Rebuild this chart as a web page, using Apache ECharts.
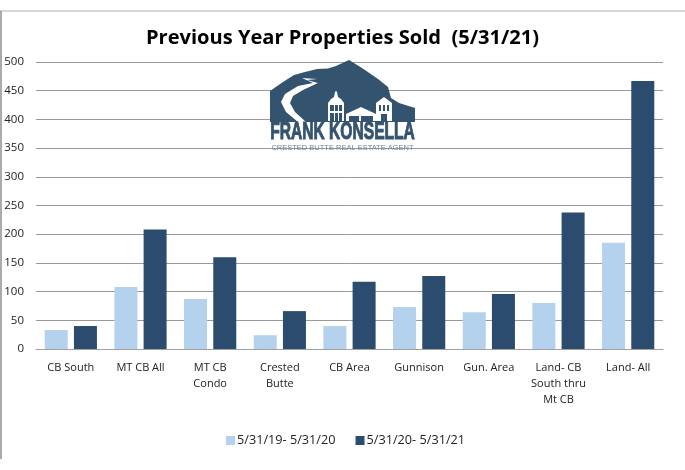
<!DOCTYPE html>
<html><head><meta charset="utf-8">
<style>html,body{margin:0;padding:0;background:#fff}#c{width:685px;height:470px}</style>
<script src="https://cdn.jsdelivr.net/npm/echarts@6/dist/echarts.min.js"></script>
</head><body><div id="c"></div>
<script>
const categories = ['CB South','MT CB All','MT CB\nCondo','Crested\nButte','CB Area','Gunnison','Gun. Area','Land- CB\nSouth thru\nMt CB','Land- All'];
const prevYear = [33,108,87,24,40,73,64,80,185];
const currYear = [40,208,160,66,117,127,96,238,467];
const yTicks = {min:0,max:500,interval:50};
const seriesNames = ['5/31/19- 5/31/20','5/31/20- 5/31/21'];
const titleText = 'Previous Year Properties Sold  (5/31/21)';
const LOGO = '#34536f';
const W = '#fff';
const rect = (x,y,w,h,fill,z) => ({type:'rect',silent:true,z:z,shape:{x:x,y:y,width:w,height:h},style:{fill:fill}});
const poly = (pts,fill,z) => ({type:'polygon',silent:true,z:z,shape:{points:pts},style:{fill:fill}});
const chart = echarts.init(document.getElementById('c'),null,{renderer:'canvas'});
chart.setOption({
  animation:false,
  backgroundColor:'#fff',
  title:{text:titleText,left:337.5,top:23,textAlign:'center',textStyle:{fontFamily:'"Open Sans"',fontSize:20.1,fontWeight:'bold',color:'#000'}},
  legend:{top:434,left:226,padding:0,itemWidth:9,itemHeight:9,itemGap:20,icon:'rect',
    textStyle:{fontFamily:'"Open Sans"',fontSize:12.7,color:'#222',padding:[0,0,0,-3]},data:seriesNames},
  grid:{left:36,right:22,top:62,height:287,containLabel:false},
  xAxis:{type:'category',data:categories,
    axisTick:{show:false},axisLine:{lineStyle:{color:'#a0a0a0',width:1}},
    axisLabel:{interval:0,fontFamily:'"Open Sans"',fontSize:11,color:'#222',lineHeight:16,margin:11}},
  yAxis:{type:'value',min:yTicks.min,max:yTicks.max,interval:yTicks.interval,
    axisLine:{show:false},axisTick:{show:false},
    splitLine:{lineStyle:{color:'#999999',width:1}},
    axisLabel:{fontFamily:'"Open Sans"',fontSize:11.5,color:'#222',margin:12,align:'right',padding:[2,0,0,0]}},
  series:[
    {name:seriesNames[0],type:'bar',data:prevYear,barWidth:23,barGap:'27%',itemStyle:{color:'#b4d1ee'}},
    {name:seriesNames[1],type:'bar',data:currYear,barWidth:23,itemStyle:{color:'#2b4c6f'}}
  ],
  graphic:[
    {type:'line',silent:true,shape:{x1:0,y1:11,x2:685,y2:11},style:{stroke:'#c8c8c8',lineWidth:1.5}},
    {type:'line',silent:true,shape:{x1:1,y1:11,x2:1,y2:459},style:{stroke:'#8f8f8f',lineWidth:1.5}},
    rect(270,121,145,25,W,5),
    poly([[270,91],[283,82],[294,75],[305,72],[317,69],[328,68.5],[336,66],[349,60],[362,68],[378,79],[388,87],[391,98],[399,103],[415,108],[415,122],[270,122]],LOGO,5),
    // road
    poly([[317,79],[302,78],[313,83],[298,86],[285,94],[281,102],[286,112],[298,122],[306,122],[295,112],[290,103],[293,96],[303,90],[318,83],[307,80]],W,6),
    // left tower
    poly([[328,103],[331,99],[334,97],[335,92],[336,91],[337,92],[338,97],[341,99],[344,103],[344,121],[328,121]],W,6),
    rect(330,105,4,6,LOGO,7),rect(335,105,3,6,LOGO,7),rect(339,105,3,6,LOGO,7),
    rect(330,113,4,8,LOGO,7),rect(335,113,3,8,LOGO,7),rect(339,113,3,8,LOGO,7),
    // middle hall
    poly([[346,114],[361,107],[376,114]],W,6),
    rect(346,114,30,7,W,6),rect(349,116,10,5,LOGO,7),rect(361,116,12,5,LOGO,7),
    // right building
    poly([[376,103],[384,97],[392,103],[392,121],[376,121]],W,6),
    rect(379,105,2,6,LOGO,7),rect(383,105,2,6,LOGO,7),rect(387,105,2,6,LOGO,7),rect(381,114,6,7,LOGO,7),
    {type:'text',silent:true,z:8,x:342.5,y:132.5,scaleX:0.65,style:{x:0,y:0,text:'FRANK KONSELLA',align:'center',verticalAlign:'middle',font:'bold 24px "Liberation Sans",sans-serif',fill:LOGO,stroke:LOGO,lineWidth:1}},
    {type:'text',silent:true,z:8,style:{x:342.5,y:147.5,text:'CRESTED BUTTE REAL ESTATE AGENT',align:'center',verticalAlign:'middle',font:'7.5px "Liberation Sans",sans-serif',fill:'#6f8498'}}
  ]
});
</script></body></html>
